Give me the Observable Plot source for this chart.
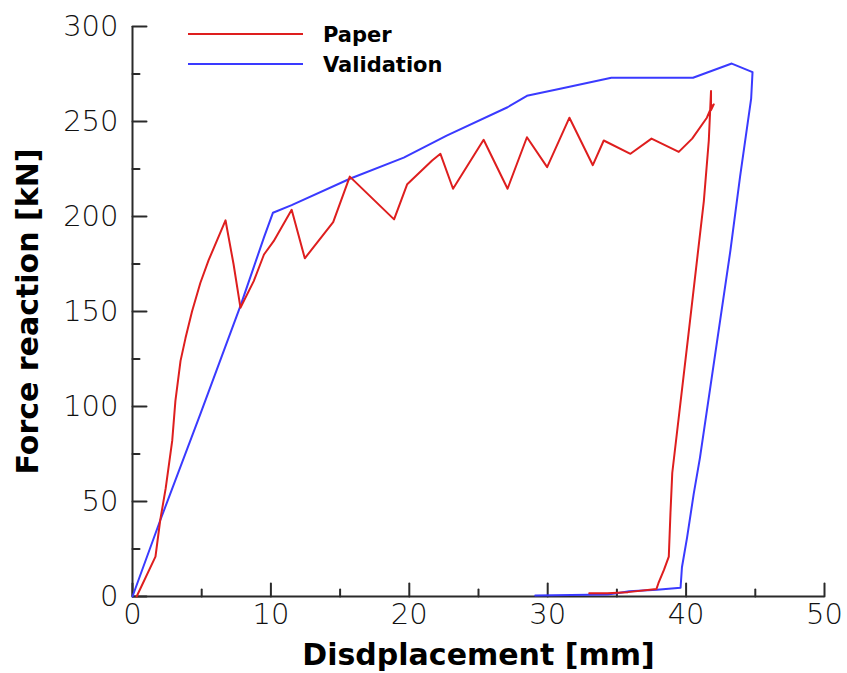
<!DOCTYPE html>
<html>
<head>
<meta charset="utf-8">
<script src="https://cdn.jsdelivr.net/npm/d3@7"></script>
<script src="https://cdn.jsdelivr.net/npm/@observablehq/plot@0.6"></script>
<style>
  html, body { margin: 0; padding: 0; background: #fff; }
  #wrap { position: relative; width: 847px; height: 673px; }
  #legend { position: absolute; left: 0; top: 0; pointer-events: none; }
</style>
</head>
<body>
<div id="wrap"></div>
<script>
// ---- data ----
const paperX = [0.3, 1.66, 2.0, 2.4, 2.87, 3.1, 3.47, 3.83, 4.3, 4.9, 5.5, 6.72, 7.3, 7.8, 8.76, 9.5, 10.2, 11.5, 12.45, 14.5, 15.7, 18.9, 19.85, 21.65, 22.25, 23.16, 25.37, 27.1, 28.5, 29.96, 31.57, 33.26, 34.05, 35.98, 37.5, 39.47, 40.44, 41.5, 41.85, 42.0, 41.8, 41.8, 41.64, 41.28, 40.17, 39.0, 38.87, 38.75, 38.4, 38.0, 37.86, 35.8, 34.3, 33.0];
const paperY = [0, 21, 40, 57, 82, 103, 124, 136, 150, 165, 177, 198, 175, 152, 166, 180, 187, 203.5, 178, 197, 221, 198.5, 217, 229.5, 233, 214.6, 240.4, 214.6, 241.7, 226, 252, 227, 240, 233, 241, 234, 241, 252, 258, 259, 256, 266, 240, 208, 138, 65, 44, 21, 14, 7, 4, 2.3, 1.7, 1.7];

const validX = [0, 2.0, 4.9, 7.8, 9.5, 10.15, 11.5, 15.75, 19.6, 22.7, 27.1, 28.5, 30.9, 34.6, 40.5, 43.3, 44.8, 44.7, 43.9, 43.2, 41.0, 40.55, 40.07, 39.7, 39.6, 37.9, 35.9, 35.0, 34.3, 29.1];
const validY = [0, 40, 96, 153, 189, 202, 206, 220, 231, 242.6, 257.5, 263.5, 267.2, 273, 273, 280.5, 276, 262, 221, 182, 73, 54, 31, 15.4, 4.6, 3.5, 2.8, 1.7, 1.0, 0.5];

const seriesNames = ["Paper", "Validation"];
const seriesColors = ["#de1e1e", "#3a3aff"];

const xMajor = [0, 10, 20, 30, 40, 50];
const xMinor = [5, 15, 25, 35, 45];
const yMajor = [0, 50, 100, 150, 200, 250, 300];
const yMinor = [25, 75, 125, 175, 225, 275];

const xTitle = "Disdplacement [mm]";
const yTitle = "Force reaction [kN]";

// ---- build tables ----
const paper = paperX.map((x, i) => ({x, y: paperY[i]}));
const valid = validX.map((x, i) => ({x, y: validY[i]}));

const tickShape = { draw(context, l) { context.moveTo(0, 0); context.lineTo(0, -l); } };
const axisColor = "#2a2a2a";
const tickFont = "DejaVu Sans";

const chart = Plot.plot({
  width: 847,
  height: 673,
  marginLeft: 132,
  marginRight: 23,
  marginTop: 26,
  marginBottom: 77,
  style: { background: "white", fontFamily: tickFont, overflow: "visible" },
  x: { domain: [0, 50] },
  y: { domain: [0, 300] },
  marks: [
    Plot.axisX({ ticks: xMajor, tickSize: 0, tickPadding: 7, label: null, fontSize: 29, fontWeight: 200, fill: "#111", tickFormat: d => String(d) }),
    Plot.axisY({ ticks: yMajor, tickSize: 0, tickPadding: 14, label: null, fontSize: 29, fontWeight: 200, fill: "#111", tickFormat: d => String(d) }),
    // inward ticks
    Plot.vector(xMajor, { x: d => d, frameAnchor: "bottom", length: 13, rotate: 0, anchor: "start", shape: tickShape, stroke: axisColor, strokeWidth: 2 }),
    Plot.vector(xMinor, { x: d => d, frameAnchor: "bottom", length: 7, rotate: 0, anchor: "start", shape: tickShape, stroke: axisColor, strokeWidth: 2 }),
    Plot.vector(yMajor, { y: d => d, frameAnchor: "left", length: 14, rotate: 90, anchor: "start", shape: tickShape, stroke: axisColor, strokeWidth: 2 }),
    Plot.vector(yMinor, { y: d => d, frameAnchor: "left", length: 7, rotate: 90, anchor: "start", shape: tickShape, stroke: axisColor, strokeWidth: 2 }),
    // axis lines
    Plot.ruleY([0], { stroke: axisColor, strokeWidth: 2 }),
    Plot.ruleX([0], { stroke: axisColor, strokeWidth: 2 }),
    // titles
    Plot.text([xTitle], { text: d => d, frameAnchor: "bottom", textAnchor: "middle", lineAnchor: "middle", dy: 59, fontSize: 30, fontWeight: "bold", fontFamily: "DejaVu Sans", fill: "#000" }),
    Plot.text([yTitle], { text: d => d, frameAnchor: "left", textAnchor: "middle", lineAnchor: "middle", dx: -104, rotate: -90, fontSize: 30, fontWeight: "bold", fontFamily: "DejaVu Sans", fill: "#000" }),
    // data
    Plot.line(valid, { x: "x", y: "y", stroke: seriesColors[1], strokeWidth: 2 }),
    Plot.line(paper, { x: "x", y: "y", stroke: seriesColors[0], strokeWidth: 2 })
  ]
});

const wrap = document.getElementById("wrap");
wrap.appendChild(chart);

// ---- legend overlay ----
const leg = d3.select(wrap).append("svg")
  .attr("id", "legend")
  .attr("width", 847).attr("height", 100);
const rows = leg.selectAll("g").data(seriesNames).join("g")
  .attr("transform", (d, i) => `translate(188, ${34 + i * 30})`);
rows.append("line")
  .attr("x1", 0).attr("x2", 115).attr("y1", 0).attr("y2", 0)
  .attr("stroke", (d, i) => seriesColors[i]).attr("stroke-width", 2);
rows.append("text")
  .attr("x", 135).attr("y", 0).attr("dy", "0.36em")
  .attr("font-family", "DejaVu Sans").attr("font-weight", "bold").attr("font-size", 21)
  .attr("fill", "#000")
  .text(d => d);
</script>
</body>
</html>
